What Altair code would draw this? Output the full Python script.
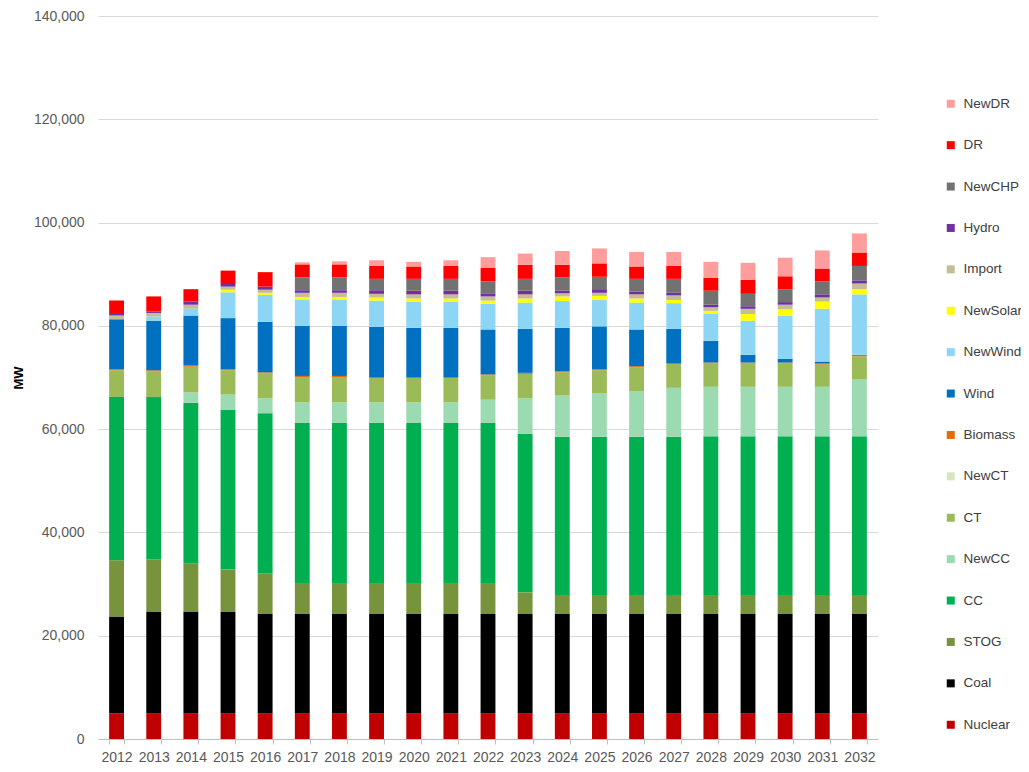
import altair as alt
import pandas as pd

years = [str(y) for y in range(2012, 2033)]

# stacked bottom -> top (MW)
Nuclear  = [5000]*21
Coal     = [18700, 19700, 19700, 19700] + [19200]*17
STOG     = [10900, 10100, 9300, 8100, 7900, 6000, 6000, 6000, 6000, 6000, 6000, 4200] + [3700]*9
CC       = [31600, 31400, 31100, 30900, 31000, 31000, 31000, 31000, 31000, 31000, 31000, 30700,
            30600, 30600, 30600, 30600, 30700, 30700, 30700, 30700, 30700]
NewCC    = [0, 0, 2000, 3000, 2900, 4000, 4000, 4000, 4000, 4000, 4500, 6900,
            8000, 8400, 8800, 9500, 9600, 9600, 9600, 9600, 11000]
CT       = [5200, 5000, 5000, 4700, 4800, 4900, 4900, 4700, 4700, 4700, 4700, 4700,
            4500, 4500, 4700, 4600, 4500, 4500, 4500, 4300, 4500]
NewCT    = [0]*21
Biomass  = [200]*20 + [300]
Wind     = [9700, 9600, 9700, 9900, 9800, 9700, 9700, 9700, 9500, 9500, 8700, 8500,
            8400, 8300, 7100, 6600, 4200, 1500, 700, 400, 0]
NewWind  = [0, 800, 1300, 5000, 5200, 5000, 5000, 5100, 5100, 5100, 5000, 5100,
            5200, 5100, 5200, 5000, 5200, 6600, 8300, 10200, 11700]
NewSolar = [0, 0, 0, 500, 400, 600, 600, 600, 600, 600, 600, 800,
            900, 800, 800, 600, 600, 1300, 1300, 1400, 1000]
Import   = [700, 700, 800, 600, 600, 800, 800, 700, 800, 800, 800, 800,
            600, 600, 800, 900, 700, 1000, 900, 800, 1100]
Hydro    = [500, 300, 600, 500, 600, 500, 500, 700, 700, 700, 600, 700,
            500, 700, 500, 500, 500, 500, 500, 600, 600]
NewCHP   = [0, 0, 0, 0, 0, 2500, 2500, 2200, 2300, 2300, 2300, 2300,
            2600, 2400, 2500, 2700, 2700, 2400, 2500, 2500, 2800]
DR       = [2400, 2900, 2400, 2600, 2800, 2500, 2500, 2500, 2400, 2500, 2600, 2700,
            2400, 2600, 2400, 2500, 2500, 2700, 2500, 2500, 2600]
NewDR    = [0, 0, 0, 0, 0, 400, 600, 1100, 900, 1100, 2100, 2200,
            2700, 2900, 2800, 2700, 3100, 3300, 3600, 3500, 3700]

series_names = ["Nuclear", "Coal", "STOG", "CC", "NewCC", "CT", "NewCT", "Biomass",
                "Wind", "NewWind", "NewSolar", "Import", "Hydro", "NewCHP", "DR", "NewDR"]
series_vals = [Nuclear, Coal, STOG, CC, NewCC, CT, NewCT, Biomass,
               Wind, NewWind, NewSolar, Import, Hydro, NewCHP, DR, NewDR]
series_colors = ["#C00000", "#000000", "#77933C", "#00B050", "#9CDAB2", "#9BBB59", "#D7E4BD",
                 "#E36C09", "#0070C0", "#8DD5F4", "#FFFF00", "#C4BD97", "#7030A0",
                 "#727272", "#FF0000", "#FF9C9C"]

rows = []
for i, (name, vals) in enumerate(zip(series_names, series_vals)):
    for y, v in zip(years, vals):
        rows.append({"Year": y, "Type": name, "MW": v, "ord": i})
df = pd.DataFrame(rows)

legend_domain = series_names[::-1]
legend_range = series_colors[::-1]

chart = alt.Chart(df).mark_bar().encode(
    x=alt.X("Year:N", title=None, sort=years,
            scale=alt.Scale(paddingInner=0.6, paddingOuter=0.3),
            axis=alt.Axis(labelAngle=0, labelFont="Liberation Sans", labelFontSize=14,
                          labelColor="#595959", domainColor="#BFBFBF", tickColor="#BFBFBF",
                          tickBand="extent", tickSize=5, labelPadding=6, grid=False)),
    y=alt.Y("sum(MW):Q", title="MW",
            scale=alt.Scale(domain=[0, 140000], nice=False),
            axis=alt.Axis(values=list(range(0, 140001, 20000)), format=",.0f",
                          labelFont="Liberation Sans", labelFontSize=14, labelColor="#595959",
                          titleFont="Liberation Sans", titleFontSize=13, titleFontWeight="bold",
                          titleColor="#000000", titlePadding=8, labelPadding=14,
                          domain=False, ticks=False, gridColor="#D9D9D9")),
    color=alt.Color("Type:N", title=None,
                    scale=alt.Scale(domain=legend_domain, range=legend_range),
                    legend=alt.Legend(orient="none", legendX=846, legendY=81,
                                      symbolType="square", symbolSize=64,
                                      symbolStrokeWidth=0, labelFont="Liberation Sans",
                                      labelFontSize=13.5, labelColor="#404040",
                                      rowPadding=26.4, labelOffset=6)),
    order=alt.Order("ord:Q", sort="ascending"),
).properties(
    width=780, height=723,
    autosize=alt.AutoSizeParams(type="none"),
    padding={"left": 90, "top": 8, "right": 143, "bottom": 24},
).configure_view(stroke=None).configure_axis(labelLimit=200)

chart.save("out.html", embed_options={"renderer": "svg", "actions": False})
